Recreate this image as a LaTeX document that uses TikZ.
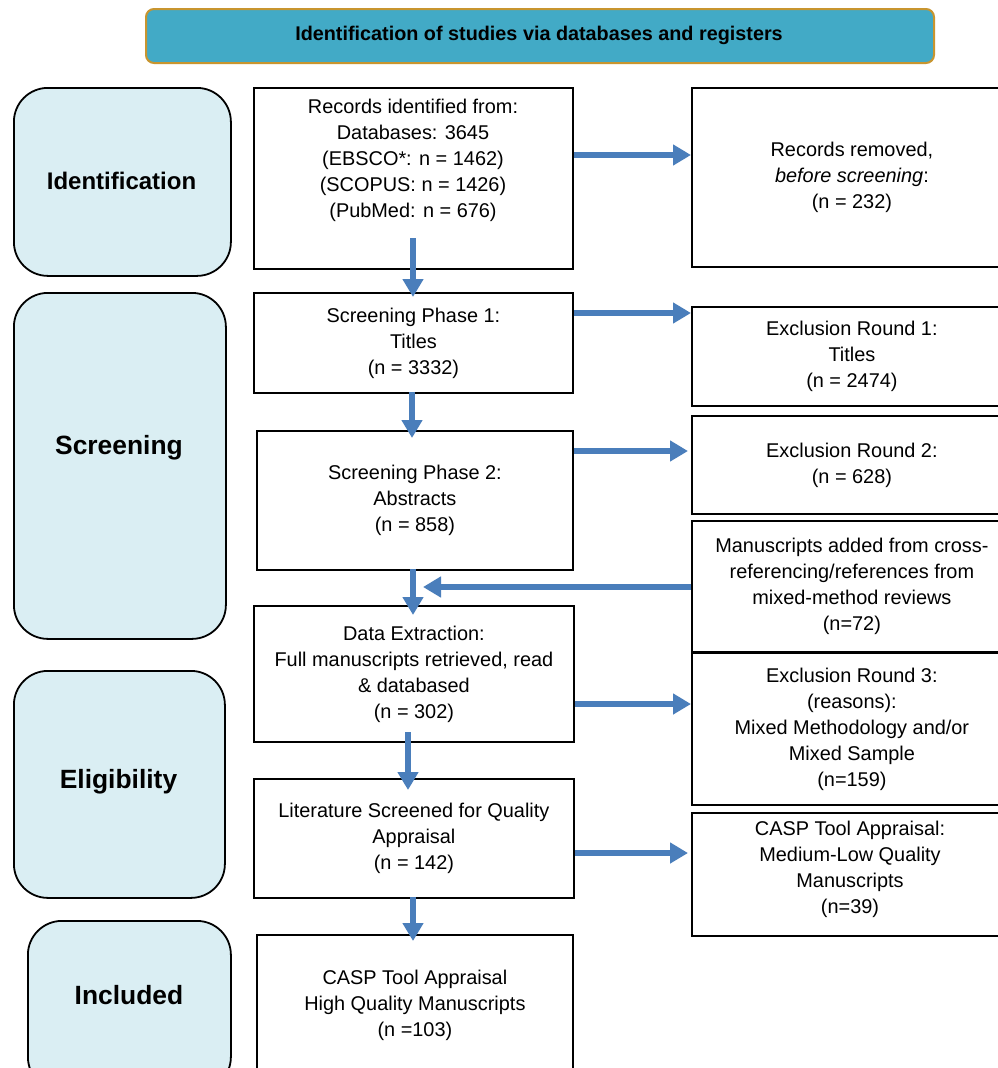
\documentclass[tikz,border=0pt]{standalone}
\usepackage{fontspec}
\setmainfont{Liberation Sans}
\usepackage{graphicx}
\usetikzlibrary{arrows.meta}
\definecolor{hdrfill}{HTML}{42AAC6}
\definecolor{hdrline}{HTML}{C8952F}
\definecolor{sidefill}{HTML}{DAEEF3}
\definecolor{arrowblue}{HTML}{4A7EBB}
\tikzset{
  box/.style={draw=black, line width=1.8pt, rectangle, minimum width=319pt, inner sep=0pt,
    anchor=north west, align=center, font=\fontsize{19.9}{26}\selectfont},
  txt/.style={align=center, inner sep=0pt, font=\fontsize{19.9}{26}\selectfont},
  phase/.style={draw=black, line width=1.8pt, fill=sidefill, rounded corners=34pt,
    inner sep=0pt, anchor=north west},
  phasetxt/.style={inner sep=0pt, font=\bfseries\fontsize{24}{28}\selectfont},
  phasebig/.style={inner sep=0pt, font=\bfseries\fontsize{26.4}{30}\selectfont},
  flow/.style={draw=arrowblue, line width=6pt, -{Triangle[length=18pt,width=20pt]}},
}
\begin{document}
\begin{tikzpicture}[x=1pt,y=-1pt]
\clip (0,0) rectangle (998,1068);
\fill[white] (0,0) rectangle (998,1068);

% header
\node[draw=hdrline, line width=2pt, fill=hdrfill, rounded corners=8pt, inner sep=0pt,
  minimum width=788pt, minimum height=54pt, anchor=north west] (hdr) at (145,8) {};
\node[inner sep=0pt] (hdrt) at (539,35)
  {\bfseries\fontsize{19.8}{22}\selectfont Identification of studies via databases and registers};

% phase boxes
\node[phase, minimum width=217pt, minimum height=188pt] (idp) at (13,87) {};
\node[phasetxt] (idt) at (121.5,181) {Identification};
\node[phase, minimum width=212pt, minimum height=346pt] (scp) at (13,292) {};
\node[phasebig] (sct) at (119,448) {Screening};
\node[phase, minimum width=211pt, minimum height=227pt] (elp) at (13,670) {};
\node[phasebig] (elt) at (118.5,782) {Eligibility};
\node[phase, minimum width=203pt, minimum height=170pt] (inp) at (27,920) {};
\node[phasebig] (int) at (129,995) {Included};

% main column
\node[box, minimum height=181pt] (rec) at (253,87) {};
\node[txt] (rect) at (413,160) {Records identified from:\\Databases: 3645\\(EBSCO*: n = 1462)\\(SCOPUS: n = 1426)\\(PubMed: n = 676)};
\node[box, minimum height=100pt] (sp1) at (253,292) {Screening Phase 1:\\Titles\\(n = 3332)};
\node[box, minimum width=316pt, minimum height=139pt] (sp2) at (256,430) {Screening Phase 2:\\Abstracts\\(n = 858)};
\node[box, minimum width=320pt, minimum height=136pt] (de) at (253,605) {Data Extraction:\\Full manuscripts retrieved, read\\\& databased\\(n = 302)};
\node[box, minimum width=320pt, minimum height=119pt] (lit) at (253,778) {Literature Screened for Quality\\Appraisal\\(n = 142)};
\node[box, minimum width=316pt, minimum height=140pt] (high) at (256,934) {CASP Tool Appraisal\\High Quality Manuscripts\\(n =103)};

% right column
\node[box, minimum width=320pt, minimum height=179pt] (rem) at (691,87) {Records removed,\\\textit{before screening}:\\(n = 232)};
\node[box, minimum width=320pt, minimum height=99pt] (ex1) at (691,306) {Exclusion Round 1:\\Titles\\(n = 2474)};
\node[box, minimum width=320pt, minimum height=98pt] (ex2) at (691,415) {Exclusion Round 2:\\(n = 628)};
\node[box, minimum width=320pt, minimum height=131pt] (add) at (691,520) {Manuscripts added from cross-\\referencing/references from\\mixed-method reviews\\(n=72)};
\node[box, minimum width=320pt, minimum height=152pt] (ex3) at (691,652) {Exclusion Round 3:\\(reasons):\\Mixed Methodology and/or\\Mixed Sample\\(n=159)};
\node[box, minimum width=320pt, minimum height=123pt] (med) at (691,812) {};
\node[txt] (medt) at (850,869) {CASP Tool Appraisal:\\Medium-Low Quality\\Manuscripts\\(n=39)};

% connectors
\coordinate (recout) at (413,238);
\draw[flow] (rec.east |- 0,155) -- (rem.west |- 0,155);
\draw[flow] (recout) -- (413,297);
\draw[flow] (sp1.east |- 0,313) -- (ex1.west |- 0,313);
\draw[flow] (412,392) -- (412,438);
\draw[flow] (sp2.east |- 0,451) -- ([xshift=-3pt]ex2.west |- 0,451);
\draw[flow] (413,569) -- (413,615);
\draw[flow] (add.west |- 0,587) -- (423,587);
\draw[flow] (de.east |- 0,704) -- (ex3.west |- 0,704);
\coordinate (deout) at (408,732);
\draw[flow] (deout) -- (408,790);
\draw[flow] (lit.east |- 0,853) -- ([xshift=-3pt]med.west |- 0,853);
\draw[flow] (413,897) -- (413,941);
\end{tikzpicture}
\end{document}
